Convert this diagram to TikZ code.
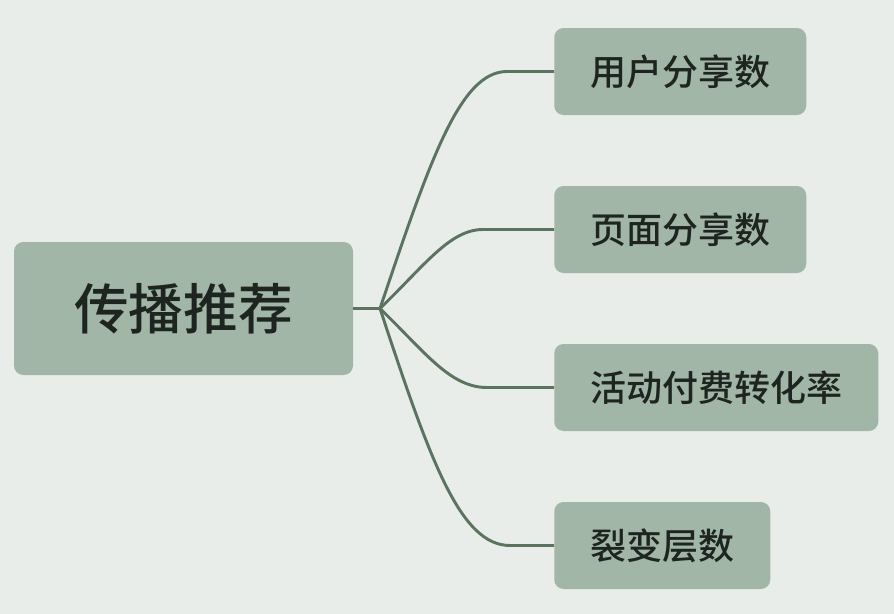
\documentclass[tikz,border=0pt]{standalone}
\usepackage{fontspec}
\setmainfont{Noto Sans CJK SC}[BoldFont={Noto Sans CJK SC Medium}]
\usetikzlibrary{positioning}
\definecolor{bgsage}{HTML}{E8EDE9}
\definecolor{boxsage}{HTML}{A1B6A6}
\definecolor{linesage}{HTML}{5B7361}
\definecolor{inkdark}{HTML}{1E241F}
\tikzset{
	rootbox/.style={fill=boxsage, rounded corners=7pt, text=inkdark, font=\fontsize{41pt}{48pt}\selectfont\bfseries,
		minimum width=254.25pt, minimum height=99.75pt, inner sep=0pt},
	leafbox/.style={fill=boxsage, rounded corners=7pt, text=inkdark, font=\fontsize{27pt}{32pt}\selectfont\bfseries,
		anchor=west, minimum height=65.25pt, inner xsep=27pt, inner ysep=0pt},
	branch/.style={draw=linesage, line width=2.2pt}
}

\begin{document}
\begin{tikzpicture}[x=0.75pt,y=-0.75pt]
	% Fixed canvas in pixel units of the reference (y grows downward).
	\path[use as bounding box] (0,0) rectangle (894,614);
	\fill[bgsage] (0,0) rectangle (894,614);

	% Central topic and its four sub-topics.
	\node[rootbox] (spread) at (183.5,308.5) {传播推荐};
	\node[leafbox] (usershare) at (554,71.5) {用户分享数};
	\node[leafbox] (pageshare) at (554,229.5) {页面分享数};
	\node[leafbox] (payconv) at (554,387.5) {活动付费转化率};
	\node[leafbox] (fission) at (554,545.5) {裂变层数};

	% Fork point where all branches leave the root.
	\coordinate (fork) at (380,308.5);
	\draw[branch] (spread.east) -- (fork);

	% Branches: curve out of the fork, then run straight into each box.
	\draw[branch] (fork) .. controls (430,160) and (460,71.5) .. (507,71.5) -- (usershare.west);
	\draw[branch] (fork) .. controls (425,265) and (450,229.5) .. (483,229.5) -- (pageshare.west);
	\draw[branch] (fork) .. controls (425,352) and (450,387.5) .. (487,387.5) -- (payconv.west);
	\draw[branch] (fork) .. controls (430,460) and (460,545.5) .. (510,545.5) -- (fission.west);
\end{tikzpicture}
\end{document}
